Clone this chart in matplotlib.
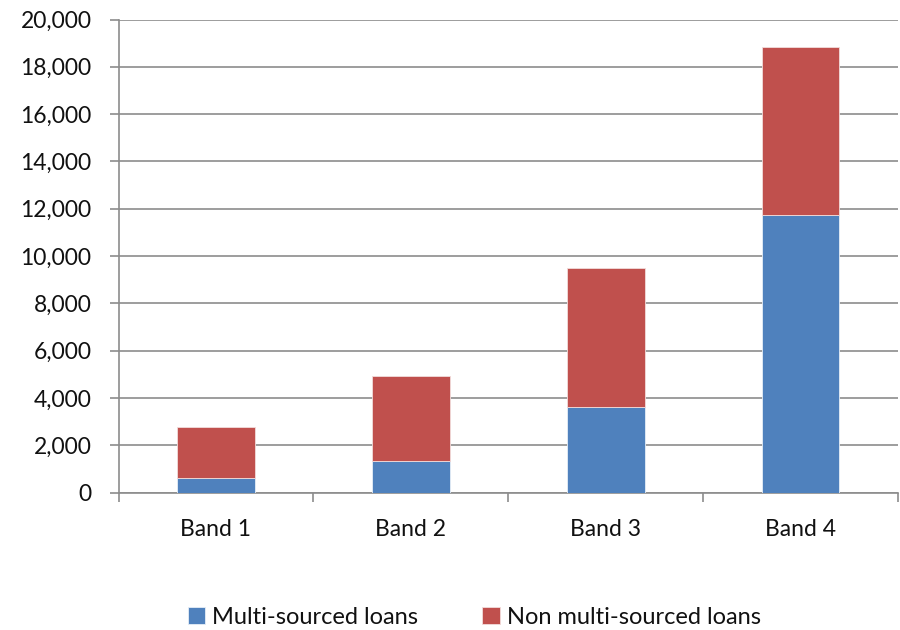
import matplotlib.pyplot as plt
import numpy as np

plt.rcParams['font.family'] = ['Lato', 'DejaVu Sans']

bands = ["Band 1", "Band 2", "Band 3", "Band 4"]
multi_sourced = [600, 1330, 3620, 11730]
non_multi_sourced = [2180, 3600, 5870, 7120]

blue = "#4F81BD"
red = "#C0504D"
grid_grey = "#8C8C8C"

fig = plt.figure(figsize=(9, 6.3), dpi=100)
ax = fig.add_axes([0.1317, 0.218, 0.866, 0.751])

x = np.arange(len(bands))
ax.bar(x, multi_sourced, width=0.4, color=blue, edgecolor="#E6EEF7", linewidth=0.6,
       label="Multi-sourced loans", zorder=3)
ax.bar(x, non_multi_sourced, width=0.4, bottom=multi_sourced, color=red,
       edgecolor="#F2DCDB", linewidth=0.6, label="Non multi-sourced loans", zorder=3)

ax.set_xlim(-0.5, len(bands) - 0.5)
ax.set_ylim(0, 20000)
ax.set_yticks(np.arange(0, 20001, 2000))
ax.set_yticklabels([f"{v:,}" for v in range(0, 20001, 2000)])
ax.set_xticks(x)
ax.set_xticklabels(bands)
ax.set_xticks(np.arange(-0.5, len(bands)), minor=True)

ax.yaxis.grid(True, color=grid_grey, linewidth=1.2, zorder=0)
for side in ["top", "right"]:
    ax.spines[side].set_visible(False)
for side in ["left", "bottom"]:
    ax.spines[side].set_color(grid_grey)
    ax.spines[side].set_linewidth(1.2)

ax.tick_params(axis="y", length=6.5, width=1.2, color=grid_grey, labelsize=16.5, pad=13,
               labelcolor="#111111")
ax.tick_params(axis="x", which="major", length=0, labelsize=16.5, pad=19,
               labelcolor="#111111")
ax.tick_params(axis="x", which="minor", length=6.5, width=1.2, color=grid_grey)

leg = fig.legend(loc="lower center", ncol=2, frameon=False, fontsize=17,
                 bbox_to_anchor=(0.527, -0.03), handlelength=0.75, handleheight=0.75,
                 handletextpad=0.3, columnspacing=2.7)
for t in leg.get_texts():
    t.set_color("#111111")

fig.savefig("out.png", dpi=100)
